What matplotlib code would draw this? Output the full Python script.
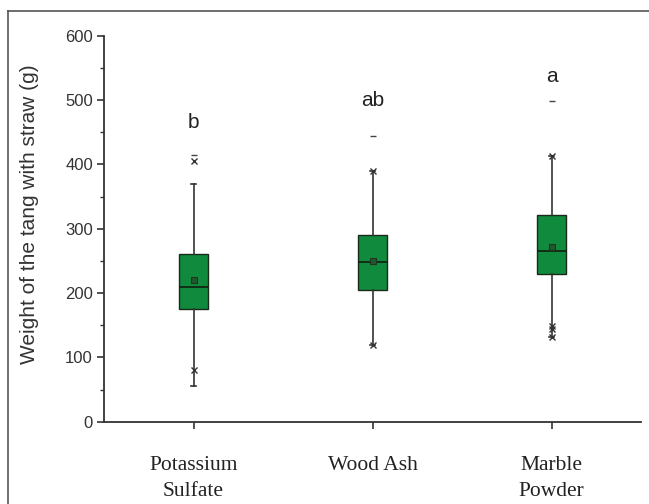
import matplotlib
matplotlib.use("Agg")
import matplotlib.pyplot as plt
from matplotlib.lines import Line2D
from matplotlib.ticker import MultipleLocator

categories = ["Potassium\nSulfate", "Wood Ash", "Marble\nPowder"]
q1 = [175, 204, 230]
median = [209, 249, 265]
q3 = [260, 290, 321]
mean = [220, 250, 272]
whislo = [55, 119, 131]
whishi = [370, 389, 413]
# extra markers (percentiles / extremes)
x_marks = [[405, 80], [389, 119], [413, 149, 144, 131]]
dash_marks = [[415], [444], [499]]
letters = ["b", "ab", "a"]
letter_y = [456, 491, 528]

W, H = 649, 504
fig = plt.figure(figsize=(W / 100, H / 100), dpi=100)
ax = fig.add_axes([104 / W, 1 - 421.7 / H, (641 - 104) / W, (421.7 - 35.7) / H])

positions = [1, 2, 3]
stats = []
for i in range(3):
    stats.append(dict(med=median[i], q1=q1[i], q3=q3[i], whislo=whislo[i],
                      whishi=whishi[i], mean=mean[i], fliers=[]))

ax.bxp(stats, positions=positions, widths=0.165, patch_artist=True,
       showmeans=True, showcaps=True, capwidths=0.03,
       boxprops=dict(facecolor="#108a3d", edgecolor="#1a2a1a", linewidth=1.0),
       medianprops=dict(color="#102010", linewidth=1.2),
       whiskerprops=dict(color="#333333", linewidth=1.2),
       capprops=dict(color="#333333", linewidth=1.2),
       meanprops=dict(marker="s", markerfacecolor="#1d5a2c", markeredgecolor="#223322",
                      markersize=4, markeredgewidth=0.8))

for i, p in enumerate(positions):
    ax.plot([p] * len(x_marks[i]), x_marks[i], linestyle="none", marker="x",
            color="#333333", markersize=4, markeredgewidth=1.0)
    ax.plot([p] * len(dash_marks[i]), dash_marks[i], linestyle="none", marker="_",
            color="#444444", markersize=4, markeredgewidth=1.0)
    ax.text(p, letter_y[i], letters[i], ha="center", va="baseline",
            fontsize=15, family="Liberation Sans", color="#222222")

ax.set_xlim(0.5, 3.5)
ax.set_ylim(0, 600)
ax.set_xticks(positions)
ax.set_xticklabels(categories, family="Liberation Serif", fontsize=15.5,
                   color="#222222", linespacing=1.55)
ax.yaxis.set_major_locator(MultipleLocator(100))
ax.yaxis.set_minor_locator(MultipleLocator(50))
for lab in ax.get_yticklabels():
    lab.set_family("Liberation Sans")
    lab.set_fontsize(12)
    lab.set_color("#333333")
ax.tick_params(axis="y", which="major", direction="out", length=5, width=1.2,
               color="#333333", pad=3)
ax.tick_params(axis="y", which="minor", direction="out", length=3, width=1.0,
               color="#333333")
ax.tick_params(axis="x", which="major", direction="out", length=5, width=1.2,
               color="#333333", pad=19.5)
for s in ["top", "right"]:
    ax.spines[s].set_visible(False)
for s in ["left", "bottom"]:
    ax.spines[s].set_linewidth(1.3)
    ax.spines[s].set_color("#333333")

fig.text(30 / W, 1 - 214 / H, "Weight of the tang with straw (g)", rotation=90,
         ha="center", va="center", fontsize=15, family="Liberation Sans",
         color="#333333")

# outer frame
fig.add_artist(Line2D([8 / W, 8 / W], [0, 1 - 11 / H], transform=fig.transFigure,
                      color="#555555", linewidth=1.2))
fig.add_artist(Line2D([8 / W, 1], [1 - 11 / H, 1 - 11 / H], transform=fig.transFigure,
                      color="#555555", linewidth=1.2))

fig.savefig("out.png", dpi=100)
